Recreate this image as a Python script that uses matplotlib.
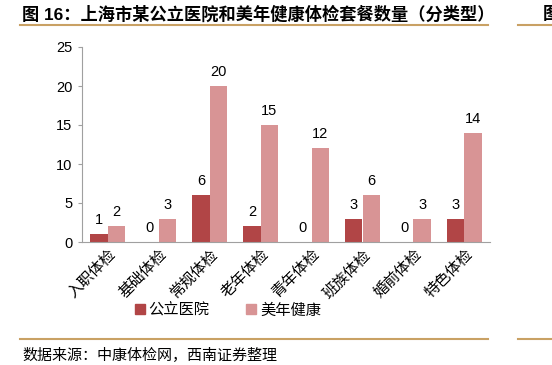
import matplotlib
matplotlib.use('Agg')
import matplotlib.pyplot as plt
import numpy as np
from matplotlib.lines import Line2D

plt.rcParams['font.family'] = ['Liberation Sans', 'Noto Sans CJK SC', 'DejaVu Sans']

# data
categories = ['入职体检', '基础体检', '常规体检', '老年体检', '青年体检', '班族体检', '婚前体检', '特色体检']
public_hospital = [1, 0, 6, 2, 0, 3, 0, 3]
meinian = [2, 3, 20, 15, 12, 6, 3, 14]
series_names = ['公立医院', '美年健康']
colors = ['#B14546', '#D89495']

title = '图 16：上海市某公立医院和美年健康体检套餐数量（分类型）'
source = '数据来源：中康体检网，西南证券整理'
gold = '#C9A164'

W, H = 552, 365
fig = plt.figure(figsize=(W / 100, H / 100), dpi=100)
ax = fig.add_axes([82 / W, 1 - 242 / H, (490 - 82) / W, (242 - 47) / H])

x = np.arange(len(categories))
bw = 0.34
b1 = ax.bar(x - bw / 2, public_hospital, bw, color=colors[0])
b2 = ax.bar(x + bw / 2, meinian, bw, color=colors[1])

for bars in (b1, b2):
    for b in bars:
        ax.annotate(f'{b.get_height():.0f}', (b.get_x() + b.get_width() / 2, b.get_height()),
                    xytext=(0, 5), textcoords='offset points', ha='center', va='bottom',
                    fontsize=10.5, family='Liberation Sans')

ax.set_xlim(-0.5, len(categories) - 0.5)
ax.set_ylim(0, 25)
ax.set_yticks(range(0, 26, 5))
ax.tick_params(axis='y', length=3, color='#A0A0A0', labelsize=10.5, pad=4)
ax.tick_params(axis='x', length=0, pad=3)
ax.set_xticks(x)
ax.set_xticklabels(categories, rotation=45, ha='right', va='top', rotation_mode='anchor',
                   fontsize=11, family='Noto Sans CJK SC')
for s in ['top', 'right']:
    ax.spines[s].set_visible(False)
for s in ['left', 'bottom']:
    ax.spines[s].set_color('#A0A0A0')

handles = [Line2D([], [], marker='s', linestyle='none', markersize=6.5, color=c) for c in colors]
fig.legend(handles, series_names, loc='center', bbox_to_anchor=(228 / W, 1 - 310 / H),
           ncol=2, frameon=False, handlelength=0.6, handletextpad=0.3, columnspacing=2.4,
           prop={'family': 'Noto Sans CJK SC', 'size': 11})

# title and frame lines
fig.text(22 / W, 1 - 14 / H, title, fontsize=12.4, fontweight='bold', va='center', ha='left',
         family=['Liberation Sans', 'Noto Sans CJK SC'])
fig.text(543 / W, 1 - 14 / H, '图', fontsize=12.4, fontweight='bold', va='center', ha='left',
         family='Noto Sans CJK SC')
for y in (25, 339):
    fig.add_artist(Line2D([20 / W, 488 / W], [1 - y / H] * 2, color=gold, lw=1.5))
    fig.add_artist(Line2D([518 / W, 1], [1 - y / H] * 2, color=gold, lw=1.5))
fig.text(22 / W, 1 - 355 / H, source, fontsize=10.8, va='center', ha='left',
         family='Noto Sans CJK SC', style='italic')

fig.savefig('out.png', dpi=100)
